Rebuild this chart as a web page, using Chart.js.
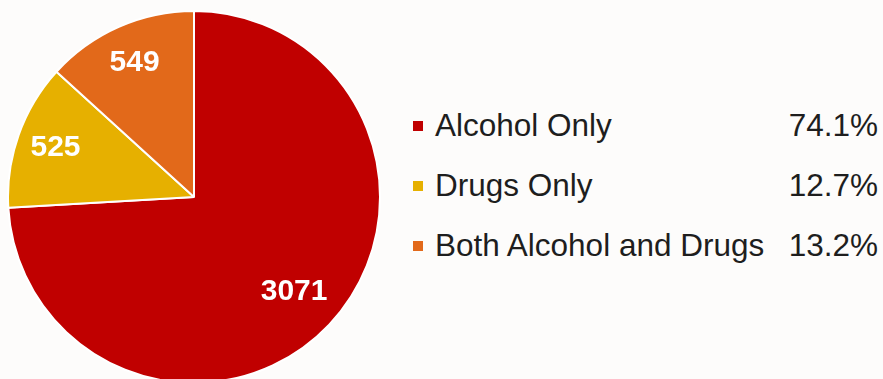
<!DOCTYPE html>
<html>
<head>
<meta charset="utf-8">
<script src="https://cdn.jsdelivr.net/npm/chart.js@4/dist/chart.umd.min.js"></script>
<style>
  html, body { margin: 0; padding: 0; background: #fdfcfb; overflow: hidden; }
  body { width: 883px; height: 379px; position: relative; font-family: "Liberation Sans", Arial, sans-serif; }
  #pieBox { position: absolute; left: 7px; top: 10px; width: 374px; height: 374px; }
  .row { position: absolute; left: 413px; width: 465px; height: 30px; line-height: 30px; font-size: 31.5px; color: #1e1e1e; }
  .sw { position: absolute; left: 0; top: 11px; width: 10px; height: 10px; }
  .lbl { position: absolute; left: 22px; top: 0; white-space: nowrap; }
  .pct { position: absolute; right: 0; top: 0; white-space: nowrap; }
</style>
</head>
<body>
<div id="pieBox"><canvas id="myChart"></canvas></div>
<div id="legend"></div>
<script>
var categories = ["Alcohol Only", "Drugs Only", "Both Alcohol and Drugs"];
var counts = [3071, 525, 549];
var colors = ["#c00000", "#e6b000", "#e2691a"];

var total = counts.reduce(function (a, b) { return a + b; }, 0);

// legend on the right, one row per category
var legend = document.getElementById("legend");
categories.forEach(function (name, i) {
  var row = document.createElement("div");
  row.className = "row";
  row.style.top = (110 + i * 60) + "px";
  row.innerHTML = '<span class="sw" style="background:' + colors[i] + '"></span>' +
    '<span class="lbl">' + name + '</span>' +
    '<span class="pct">' + (counts[i] / total * 100).toFixed(1) + '%</span>';
  legend.appendChild(row);
});

// white value labels inside the slices
var sliceLabels = {
  id: "sliceLabels",
  afterDatasetsDraw: function (chart) {
    var c = chart.ctx;
    var meta = chart.getDatasetMeta(0);
    c.save();
    c.fillStyle = "#fff";
    c.font = "bold 30px 'Liberation Sans', Arial, sans-serif";
    c.textAlign = "center";
    c.textBaseline = "middle";
    meta.data.forEach(function (arc, i) {
      var p = arc.getProps(["x", "y", "startAngle", "endAngle", "outerRadius"], true);
      var mid = (p.startAngle + p.endAngle) / 2;
      var f = (p.endAngle - p.startAngle) > Math.PI ? 0.74 : 0.79;
      var r = p.outerRadius * f;
      c.fillText(String(counts[i]), p.x + Math.cos(mid) * r, p.y + Math.sin(mid) * r);
    });
    c.restore();
  }
};

var ctx = document.getElementById("myChart").getContext("2d");
var myChart = new Chart(ctx, {
  type: "pie",
  data: {
    labels: categories,
    datasets: [{
      data: counts,
      backgroundColor: colors,
      borderColor: "#ffffff",
      borderWidth: 2
    }]
  },
  options: {
    responsive: true,
    maintainAspectRatio: false,
    animation: false,
    layout: { padding: 0 },
    plugins: {
      legend: { display: false },
      tooltip: { enabled: false }
    }
  },
  plugins: [sliceLabels]
});
</script>
</body>
</html>
